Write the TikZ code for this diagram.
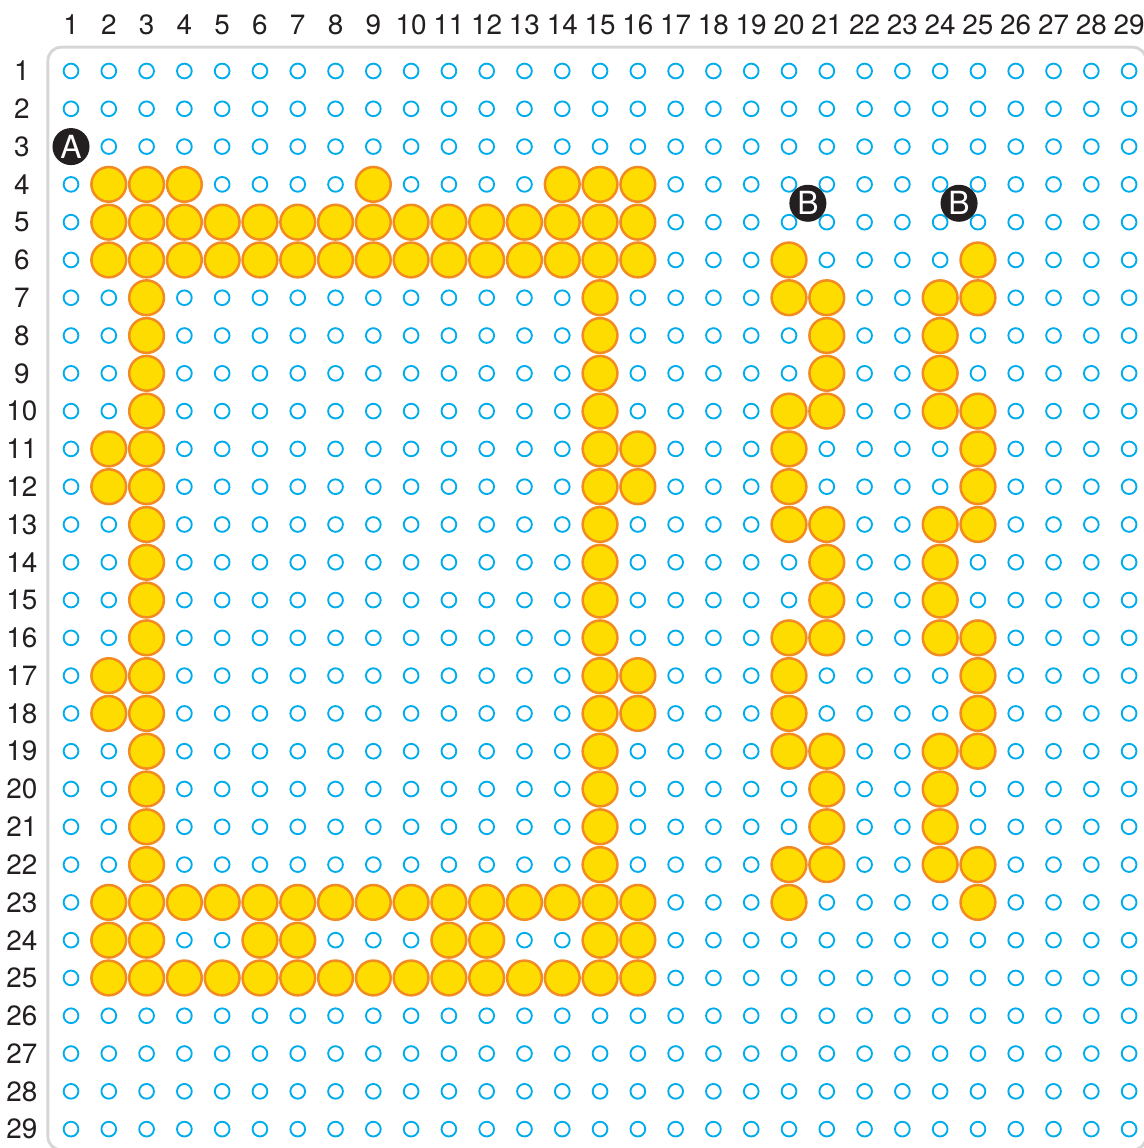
\documentclass[tikz,border=0pt]{standalone}
\usepackage{fontspec}
\setmainfont{TeX Gyre Heros}
\usetikzlibrary{positioning}

\definecolor{holeblue}{RGB}{0,172,236}
\definecolor{beadfill}{RGB}{255,220,0}
\definecolor{beadline}{RGB}{242,140,34}
\definecolor{boardgray}{RGB}{214,214,214}
\definecolor{markblack}{RGB}{35,31,32}

\tikzset{
  hole/.style={draw=holeblue, line width=1.4pt},
  bead/.style={fill=beadfill, draw=beadline, line width=1.9pt},
  numlabel/.style={font=\fontsize{21}{22}\selectfont, text=markblack},
  markbox/.style={circle, fill=markblack, text=white, minimum size=0.98cm,
    inner sep=0pt, font=\fontsize{24}{24}\selectfont}
}

\begin{document}
\begin{tikzpicture}[x=1cm,y=-1cm]
        \useasboundingbox (-0.879,-0.879) rectangle (29.37,29.5);
        % Pegboard outline
        \draw[boardgray, line width=2.2pt, rounded corners=0.35cm] (0.39,0.37) rectangle (29.45,29.55);
        % Column and row numbers
        \foreach \c in {1,...,29} {
            \node[numlabel] (col\c) at (\c,-0.22) {\c};
          }
        \foreach \r in {1,...,29} {
            \node[numlabel] (row\r) at (-0.3,\r) {\r};
          }
        % Empty pegs
        \foreach \r in {1,...,29} {
            \foreach \c in {1,...,29} {
                \draw[hole] (\c,\r) circle (0.195);
              }
          }
        % Beads, row by row
        \foreach \r/\cols in {
            4/{2,3,4,9,14,15,16},
            5/{2,...,16},
            6/{2,...,16,20,25},
            7/{3,15,20,21,24,25},
            8/{3,15,21,24},
            9/{3,15,21,24},
            10/{3,15,20,21,24,25},
            11/{2,3,15,16,20,25},
            12/{2,3,15,16,20,25},
            13/{3,15,20,21,24,25},
            14/{3,15,21,24},
            15/{3,15,21,24},
            16/{3,15,20,21,24,25},
            17/{2,3,15,16,20,25},
            18/{2,3,15,16,20,25},
            19/{3,15,20,21,24,25},
            20/{3,15,21,24},
            21/{3,15,21,24},
            22/{3,15,20,21,24,25},
            23/{2,...,16,20,25},
            24/{2,3,6,7,11,12,15,16},
            25/{2,...,16}} {
            \foreach \c in \cols {
                \draw[bead] (\c,\r) circle (0.46);
              }
          }
        % Markers
        \node[markbox] (markA) at (1,3) {A};
        \node[markbox] (markBleft) at (20.5,4.5) {B};
        \node[markbox] (markBright) at (24.5,4.5) {B};
      \end{tikzpicture}
\end{document}
